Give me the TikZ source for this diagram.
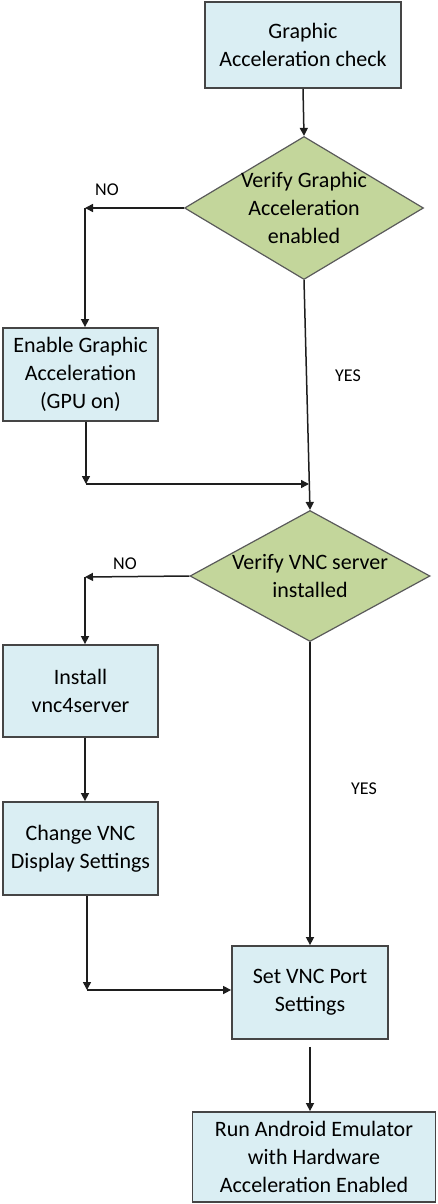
\documentclass[tikz,border=0pt]{standalone}
\usepackage{fontspec}
\setmainfont{Carlito}
\usetikzlibrary{arrows.meta,shapes.geometric}
\definecolor{boxfill}{HTML}{DAEEF3}
\definecolor{boxline}{HTML}{454545}
\definecolor{diafill}{HTML}{C3D69B}
\definecolor{dialine}{HTML}{5A5A5A}
\definecolor{conn}{HTML}{1E1E1E}
\tikzset{
  stepbox/.style={draw=boxline, fill=boxfill, line width=1.8pt, inner sep=0pt, align=center,
    font=\fontsize{22}{28}\selectfont},
  decision/.style={diamond, draw=dialine, fill=diafill, line width=1.2pt, inner sep=0pt, aspect=1.67},
  dtext/.style={align=center, font=\fontsize{22}{28}\selectfont, inner sep=0pt},
  lbl/.style={font=\fontsize{18}{22}\selectfont, inner sep=0pt},
  arr/.style={draw=conn, line width=1.5pt, -{Triangle[length=8pt,width=8pt]}},
  ln/.style={draw=conn, line width=1.5pt}
}
\begin{document}
\begin{tikzpicture}[x=1pt,y=-1pt]
\useasboundingbox (0,0) rectangle (437,1204);
% nodes
\node[stepbox, minimum width=196pt, minimum height=86pt] (b1) at (303,45) {Graphic\\Acceleration check};
\node[decision, minimum width=239pt, minimum height=143pt] (d1) at (304,208) {};
\node[dtext] (d1t) at (304,208) {Verify Graphic\\Acceleration\\enabled};
\node[stepbox, minimum width=155pt, minimum height=93pt] (b2) at (80.5,374.5) {Enable Graphic\\Acceleration\\(GPU on)};
\node[decision, minimum width=240pt, minimum height=131pt] (d2) at (310,576) {};
\node[dtext] (d2t) at (310,576) {Verify VNC server\\installed};
\node[stepbox, minimum width=155pt, minimum height=92pt] (b3) at (80.5,691) {Install\\vnc4server};
\node[stepbox, minimum width=155pt, minimum height=93pt] (b4) at (80.5,848.5) {Change VNC\\Display Settings};
\node[stepbox, minimum width=156pt, minimum height=93pt] (b5) at (310,992.5) {Set VNC Port\\Settings};
\node[stepbox, minimum width=243pt, minimum height=90pt] (b6) at (314,1157) {Run Android Emulator\\with Hardware\\Acceleration Enabled};
% labels
\node[lbl] (no1) at (107,190) {NO};
\node[lbl] (yes1) at (348,376) {YES};
\node[lbl] (no2) at (125,564) {NO};
\node[lbl] (yes2) at (364,789) {YES};
% junction coordinates
\coordinate (j1) at (85,208);
\coordinate (j2) at (86,484);
\coordinate (j3) at (309,484);
\coordinate (j4) at (85,577);
\coordinate (j5) at (87,990);
% connectors
\draw[arr] (b1.south) -- (d1.north);
\draw[arr] (d1.west) -- (j1);
\draw[arr] (j1) -- (j1 |- b2.north);
\draw[arr] (j2 |- b2.south) -- (j2);
\draw[arr] (j2) -- (j3);
\draw[arr] (d1.south) -- (d2.north);
\draw[arr] (d2.west) -- (j4);
\draw[arr] (j4) -- (j4 |- b3.north);
\draw[arr] (b3.south -| j4) -- (b4.north -| j4);
\draw[arr] (j5 |- b4.south) -- (j5);
\draw[arr] (j5) -- (j5 -| b5.west);
\draw[arr] (d2.south) -- (b5.north);
\draw[arr, shorten <=7pt] (b5.south) -- (b5.south |- b6.north);
\end{tikzpicture}
\end{document}
